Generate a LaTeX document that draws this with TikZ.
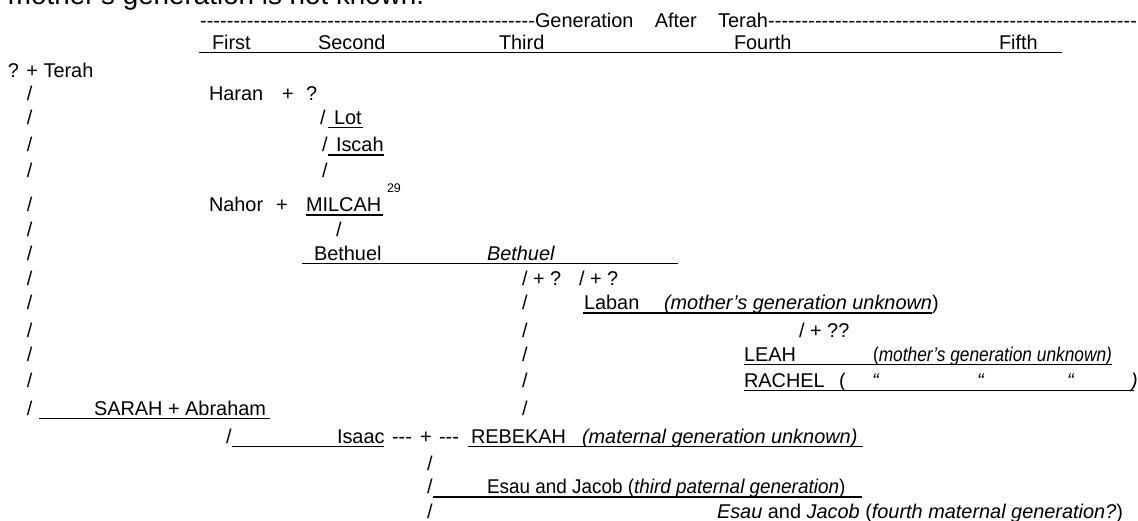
\documentclass[tikz,border=0pt]{standalone}
\usepackage{fontspec}
\setmainfont{Liberation Sans}[Ligatures=TeXOff]
\usepackage{graphicx}
\newcommand\bodyfont{\fontsize{19.9}{24}\selectfont}
\newcommand\notefont{\fontsize{27.8}{32}\selectfont}
\newcommand\supfont{\fontsize{12.5}{14}\selectfont}
\newcommand\hyrun[1]{\makebox[#1]{\xleaders\hbox{-}\hfill}}
\begin{document}
\begin{tikzpicture}[x=1pt,y=-1pt,
  t/.style={anchor=base west,inner sep=0pt,outer sep=0pt,font=\bodyfont,text=black},
  ul/.style={draw=black,line width=1.2pt}]
\useasboundingbox (0,0) rectangle (1138,520);
% cut-off line above
\node[t,font=\notefont] (note) at (8,4) {mother’s generation is not known.};
% header
\node[t] (dashL) at (200,27) {\hyrun{335pt}};
\node[t] (gen) at (535,27) {\makebox[233pt][s]{Generation\hfil After\hfil Terah}};
\node[t] (dashR) at (768,27) {\hyrun{369pt}};
\node[t] (first) at (212,49) {First};
\node[t] (second) at (318,49) {Second};
\node[t] (third) at (499,49) {Third};
\node[t] (fourth) at (734,49) {Fourth};
\node[t] (fifth) at (999,49) {Fifth};
\draw[ul] (199,52.5) -- (1062,52.5);
% left column of slashes
\foreach \y [count=\i] in {100,124,151.5,177.5,211.5,236.5,260,285,309.5,337,361,387,415}
  \node[t] (ls\i) at (27,\y) {/};
% rows
\node[t] (terah) at (8,77) {? + Terah};
\node[t] (haran) at (209,100) {Haran};
\node[t] (hplus) at (282,100) {+};
\node[t] (hq) at (306,100) {?};
\node[t] (sl5) at (320,124) {/};
\node[t] (lot) at (334,124) {Lot};
\draw[ul] (328,127.5) -- (363,127.5);
\node[t] (sl6) at (322,151.5) {/};
\node[t] (iscah) at (336,151.5) {Iscah};
\draw[ul] (328,155) -- (384,155);
\node[t] (sl7) at (322,177.5) {/};
\node[t] (nahor) at (209,211.5) {Nahor};
\node[t] (nplus) at (276,211.5) {+};
\node[t] (milcah) at (306,211.5) {MILCAH};
\draw[ul] (306,215) -- (383,215);
\node[t,font=\supfont] (fn) at (387,192) {29};
\node[t] (sl9) at (336,236.5) {/};
\node[t] (beth1) at (314,260) {Bethuel};
\node[t] (beth2) at (487,260) {\itshape Bethuel};
\draw[ul] (302,263.5) -- (678,263.5);
\node[t] (m1) at (522,285) {/ + ?};
\node[t] (m2) at (579,285) {/ + ?};
\node[t] (sl12) at (522,309.5) {/};
\node[t] (laban) at (584,309.5) {Laban};
\node[t] (labnote) at (664,309.5) {\itshape (mother’s generation unknown\/\upshape)};
\draw[ul] (583,313) -- (932,313);
\node[t] (sl13) at (522,337) {/};
\node[t] (m3) at (799,337) {/ + ??};
\node[t] (sl14) at (522,361) {/};
\node[t] (leah) at (744,361) {LEAH};
\node[t] (leahnote) at (873,361) {\scalebox{0.87}[1]{(\itshape mother’s generation unknown)}};
\draw[ul] (744,364.5) -- (1112,364.5);
\node[t] (sl15) at (522,387) {/};
\node[t] (rachel) at (744,387) {RACHEL};
\node[t] (rp1) at (839,387) {(};
\node[t] (q1) at (872,387) {\itshape “};
\node[t] (q2) at (977,387) {\itshape “};
\node[t] (q3) at (1067,387) {\itshape “};
\node[t] (rp2) at (1131,387) {\itshape )};
\draw[ul] (744,390.5) -- (1134,390.5);
\node[t] (sarah) at (94,415) {SARAH + Abraham};
\draw[ul] (39,418.5) -- (270,418.5);
\node[t] (sl16) at (522,415) {/};
\node[t] (sl17) at (226,443) {/};
\node[t] (isaac) at (337,443) {Isaac};
\draw[ul] (232,446.5) -- (384,446.5);
\node[t] (d1) at (392,443) {---};
\node[t] (iplus) at (420,443) {+};
\node[t] (d2) at (439,443) {---};
\node[t] (rebekah) at (471,443) {REBEKAH};
\node[t] (rebnote) at (582,443) {\itshape (maternal generation unknown)};
\draw[ul] (468,446.5) -- (863,446.5);
\node[t] (sl18) at (427,470) {/};
\node[t] (sl19) at (427,493.5) {/};
\node[t] (ej1) at (487,493.5) {\scalebox{0.95}[1]{Esau and Jacob (\textit{third paternal generation})}};
\draw[ul] (433,497) -- (862,497);
\node[t] (sl20) at (427,518) {/};
\node[t] (ej2) at (717,518) {\textit{Esau} and \textit{Jacob} (\textit{fourth maternal generation?})};
\end{tikzpicture}
\end{document}
